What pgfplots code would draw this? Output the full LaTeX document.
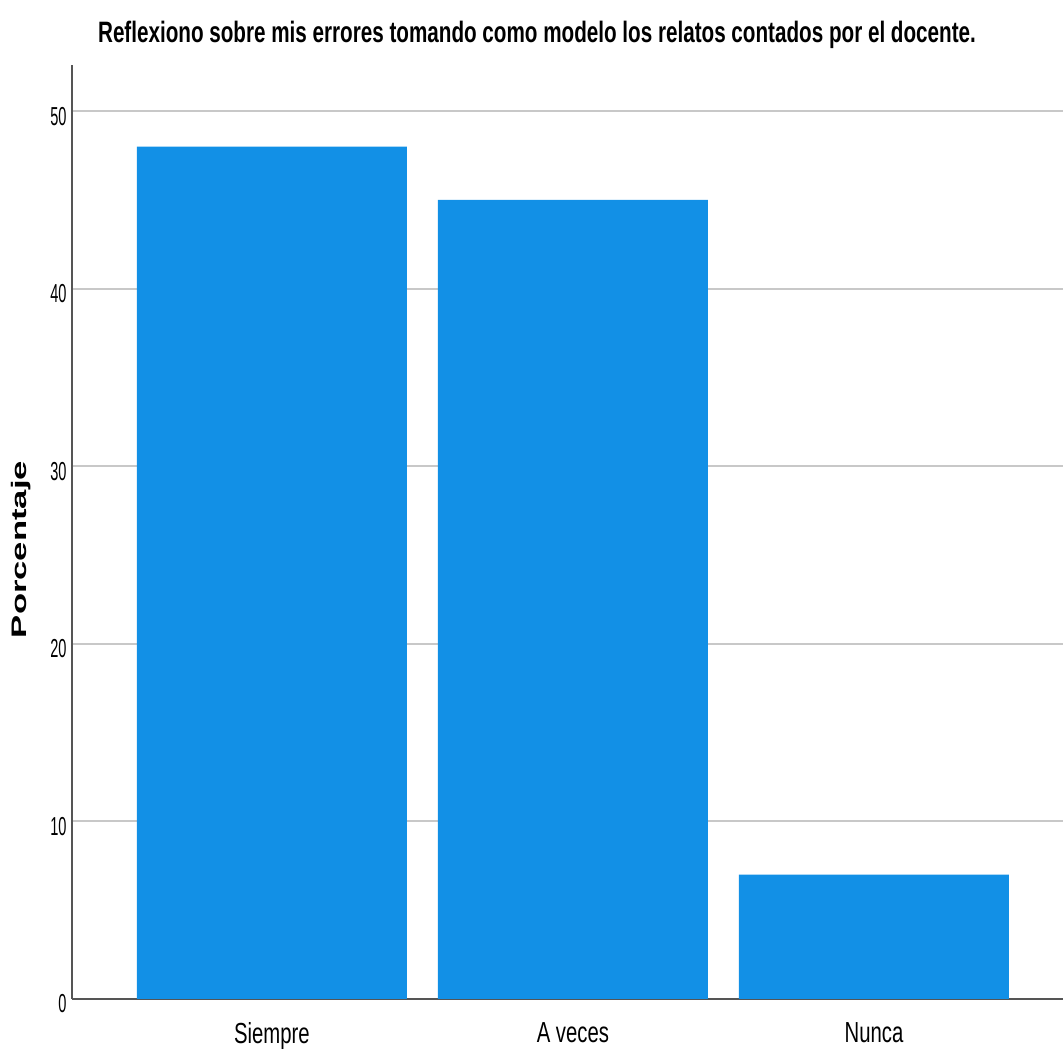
\documentclass[border=0pt]{standalone}
\usepackage{fontspec}
\setmainfont{Liberation Sans}
\newfontfamily\condfont{Liberation Sans}[FakeStretch=0.7]
\newfontfamily\narrowfont{Liberation Sans}[FakeStretch=0.56]
\newfontfamily\wideboldfont{Liberation Sans}[FakeStretch=1.65]
\usepackage{pgfplots}
\pgfplotsset{compat=1.18}
\definecolor{barblue}{HTML}{1290E6}
\definecolor{gridgray}{HTML}{C8C8C8}
\definecolor{axisgray}{HTML}{555555}
\begin{document}
\begin{tikzpicture}
\begin{axis}[
  at={(0,0)}, anchor=south west,
  scale only axis,
  width=991pt, height=934pt,
  xmin=-0.664, xmax=2.628,
  ymin=0, ymax=52.6,
  axis x line*=bottom, axis y line*=left,
  axis line style={axisgray, line width=1.5pt},
  x axis line style={-}, y axis line style={-},
  xtick={0,1,2},
  xticklabels={Siempre, A veces, Nunca},
  ytick={0,10,20,30,40,50},
  major tick length=0pt,
  ymajorgrids,
  grid style={gridgray, line width=2pt},
  tick label style={/pgf/number format/assume math mode=true},
  yticklabel style={font=\narrowfont\fontsize{26}{26}\selectfont, xshift=-2pt, yshift=-5pt},
  xticklabel style={font=\condfont\fontsize{29}{29}\selectfont, yshift=-20pt},
  bar width=270pt,
  clip=false,
]
\addplot[ybar, fill=barblue, draw=none] coordinates {(0,48) (1,45) (2,7)};
\end{axis}
\node[font=\condfont\bfseries\fontsize{29.5}{29.5}\selectfont] at (465pt,964pt) {Reflexiono sobre mis errores tomando como modelo los relatos contados por el docente.};
\node[font=\wideboldfont\bfseries\fontsize{21}{21}\selectfont, rotate=90] at (-51pt,449.5pt) {Porcentaje};
\pgfresetboundingbox
\useasboundingbox (-72pt,-56pt) rectangle (991pt,999pt);
\end{tikzpicture}
\end{document}
